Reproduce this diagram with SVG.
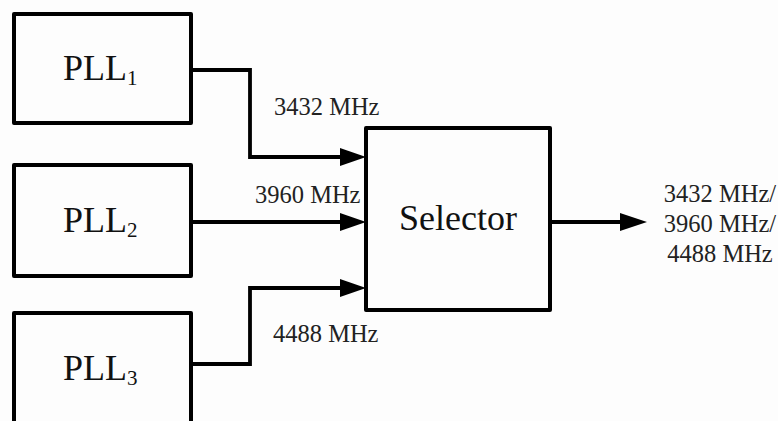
<svg xmlns="http://www.w3.org/2000/svg" width="778" height="421" viewBox="0 0 778 421">
  <defs>
    <style>
      .box { fill: none; stroke: #000; stroke-width: 4; stroke-linejoin: round; }
      .wire { fill: none; stroke: #000; stroke-width: 3.8; stroke-linejoin: miter; }
      .big { font-family: "Liberation Serif", "Times New Roman", serif; font-size: 36px; fill: #111; }
      .sub { font-size: 21px; }
      .lbl { font-family: "Liberation Serif", "Times New Roman", serif; font-size: 24.5px; fill: #222; }
      .head { fill: #000; }
    </style>
  </defs>
  <rect x="0" y="0" width="778" height="421" fill="#fdfdfd"/>

  <g id="pll1">
    <rect class="box" x="14" y="14" width="177" height="109"/>
    <text class="big" x="63" y="80">PLL<tspan class="sub" dy="5">1</tspan></text>
  </g>
  <g id="pll2">
    <rect class="box" x="14" y="165" width="177" height="111"/>
    <text class="big" x="63" y="232">PLL<tspan class="sub" dy="5">2</tspan></text>
  </g>
  <g id="pll3">
    <rect class="box" x="14" y="313" width="177" height="130"/>
    <text class="big" x="63" y="380">PLL<tspan class="sub" dy="5">3</tspan></text>
  </g>
  <g id="selector">
    <rect class="box" x="366" y="128" width="184" height="182"/>
    <text class="big" x="458" y="230" text-anchor="middle">Selector</text>
  </g>

  <g id="connectors">
    <polyline class="wire" points="191,70 250,70 250,157 342,157"/>
    <polygon class="head" points="340,148 366,157 340,166"/>
    <polyline class="wire" points="191,222 342,222"/>
    <polygon class="head" points="340,213 366,222 340,231"/>
    <polyline class="wire" points="191,364 250,364 250,288 342,288"/>
    <polygon class="head" points="340,279 366,288 340,297"/>
    <polyline class="wire" points="550,222 622,222"/>
    <polygon class="head" points="620,213 647,222 620,231"/>
  </g>

  <g id="labels">
    <text class="lbl" x="274" y="115">3432 MHz</text>
    <text class="lbl" x="255" y="203">3960 MHz</text>
    <text class="lbl" x="273" y="342">4488 MHz</text>
    <text class="lbl" x="720" y="202" text-anchor="middle">3432 MHz/</text>
    <text class="lbl" x="720" y="232" text-anchor="middle">3960 MHz/</text>
    <text class="lbl" x="720" y="262" text-anchor="middle">4488 MHz</text>
  </g>
</svg>
